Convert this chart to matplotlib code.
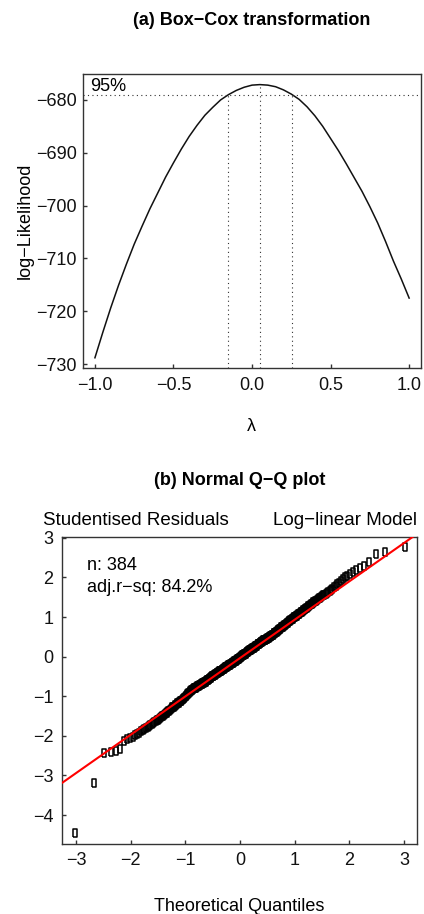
import numpy as np
import matplotlib
matplotlib.use("Agg")
import matplotlib.pyplot as plt
from statistics import NormalDist

plt.rcParams['font.family'] = ['Liberation Sans', 'DejaVu Sans']
plt.rcParams['font.size'] = 13

# (a) Box-Cox profile log-likelihood
lam = [-1.0, -0.95, -0.9, -0.85, -0.8, -0.75, -0.7, -0.65, -0.6, -0.55,
       -0.5, -0.45, -0.4, -0.35, -0.3, -0.25, -0.2, -0.15, -0.1, -0.05,
       0.0, 0.05, 0.1, 0.15, 0.2, 0.25, 0.3, 0.35, 0.4, 0.45,
       0.5, 0.55, 0.6, 0.65, 0.7, 0.75, 0.8, 0.85, 0.9, 0.95, 1.0]
loglik = [-728.8, -724.0, -719.4, -715.1, -711.1, -707.3, -703.9, -700.6,
          -697.6, -694.6, -691.9, -689.3, -686.9, -684.8, -682.9, -681.4,
          -680.0, -679.0, -678.2, -677.6, -677.2, -677.1, -677.2, -677.5,
          -678.1, -678.9, -679.9, -681.3, -683.0, -685.0, -687.3, -689.6,
          -692.1, -694.7, -697.3, -700.2, -703.3, -706.8, -710.5, -713.9,
          -717.5]
lam_best = 0.053
loglik_max = -677.09
lim95 = -679.0
ci = [-0.153, 0.255]

# (b) sorted studentised residuals, n = 384
resid = [
    -4.44, -3.19, -2.42, -2.41, -2.39, -2.34, -2.13, -2.08, -2.06, -2.03,
    -1.99, -1.95, -1.92, -1.88, -1.86, -1.83, -1.80, -1.77, -1.74, -1.72,
    -1.70, -1.68, -1.65, -1.63, -1.61, -1.59, -1.57, -1.55, -1.53, -1.51,
    -1.49, -1.47, -1.45, -1.43, -1.41, -1.40, -1.38, -1.36, -1.34, -1.32,
    -1.30, -1.28, -1.27, -1.26, -1.24, -1.23, -1.21, -1.20, -1.18, -1.17,
    -1.16, -1.15, -1.13, -1.12, -1.11, -1.10, -1.07, -1.06, -1.05, -1.04,
    -1.01, -1.00, -0.99, -0.98, -0.94, -0.93, -0.92, -0.91, -0.88, -0.87,
    -0.86, -0.85, -0.84, -0.83, -0.82, -0.81, -0.80, -0.79, -0.79, -0.78,
    -0.78, -0.77, -0.76, -0.75, -0.74, -0.74, -0.73, -0.72,
    -0.72, -0.71, -0.70, -0.69, -0.69, -0.68, -0.67, -0.66,
    -0.66, -0.66, -0.65, -0.64, -0.63, -0.63, -0.62, -0.61,
    -0.60, -0.59, -0.59, -0.58, -0.57, -0.56, -0.56, -0.55,
    -0.53, -0.53, -0.52, -0.51, -0.50, -0.50, -0.49, -0.48,
    -0.48, -0.47, -0.46, -0.45, -0.45, -0.44, -0.43, -0.43,
    -0.42, -0.41, -0.41, -0.40, -0.39, -0.38, -0.38, -0.37,
    -0.37, -0.37, -0.36, -0.35, -0.35, -0.34, -0.33, -0.33,
    -0.32, -0.31, -0.31, -0.30, -0.29, -0.29, -0.28, -0.27,
    -0.27, -0.26, -0.25, -0.25, -0.24, -0.24, -0.23, -0.22,
    -0.22, -0.22, -0.21, -0.21, -0.20, -0.19, -0.19, -0.18,
    -0.17, -0.17, -0.16, -0.16, -0.15, -0.14, -0.14, -0.13,
    -0.12, -0.12, -0.11, -0.10, -0.10, -0.09, -0.09, -0.08,
    -0.07, -0.07, -0.06, -0.05, -0.05, -0.04, -0.03, -0.03,
    -0.01, -0.01, 0.00, 0.01, 0.01, 0.02, 0.03, 0.03,
    0.04, 0.04, 0.05, 0.06, 0.06, 0.07, 0.08, 0.08,
    0.10, 0.10, 0.11, 0.12, 0.12, 0.13, 0.14, 0.14,
    0.15, 0.16, 0.16, 0.17, 0.18, 0.18, 0.19, 0.20,
    0.20, 0.20, 0.21, 0.21, 0.22, 0.22, 0.23, 0.24,
    0.24, 0.25, 0.26, 0.26, 0.27, 0.28, 0.28, 0.29,
    0.31, 0.31, 0.32, 0.33, 0.33, 0.34, 0.35, 0.35,
    0.36, 0.37, 0.37, 0.38, 0.39, 0.40, 0.40, 0.41,
    0.41, 0.41, 0.42, 0.43, 0.43, 0.44, 0.45, 0.45,
    0.45, 0.46, 0.47, 0.47, 0.48, 0.49, 0.50, 0.50,
    0.51, 0.52, 0.52, 0.53, 0.54, 0.55, 0.55, 0.56,
    0.58, 0.59, 0.59, 0.60, 0.61, 0.62, 0.63, 0.63,
    0.65, 0.66, 0.67, 0.68, 0.68, 0.69, 0.70, 0.71,
    0.73, 0.74, 0.75, 0.75, 0.76, 0.77, 0.78, 0.79,
    0.81, 0.81, 0.82, 0.83, 0.84, 0.85, 0.86, 0.87,
    0.89, 0.90, 0.91, 0.92, 0.93, 0.94, 0.95, 0.96,
    0.98, 0.99, 1.00, 1.01, 1.02, 1.03, 1.04, 1.05,
    1.07, 1.08, 1.09, 1.11, 1.12, 1.13, 1.14, 1.15,
    1.18, 1.19, 1.20, 1.21, 1.23, 1.24, 1.25, 1.27,
    1.29, 1.31, 1.32, 1.33, 1.35, 1.37, 1.38, 1.40,
    1.41, 1.43, 1.45, 1.47, 1.49, 1.51, 1.53, 1.55,
    1.57, 1.59, 1.62, 1.64, 1.67, 1.69, 1.72, 1.75,
    1.79, 1.83, 1.86, 1.90,
    1.96, 2.00, 2.04, 2.10, 2.14, 2.20, 2.25, 2.30, 2.38, 2.59, 2.65, 2.77,
]
assert len(resid) == 384
qq_slope = 0.969
qq_intercept = -0.035


def style_axes(ax):
    for s in ax.spines.values():
        s.set_linewidth(1.0)
        s.set_color('#333333')
    ax.tick_params(direction='in', length=3.2, width=1.0, color='#333333',
                   labelsize=13, labelcolor='#111111')


fig = plt.figure(figsize=(4.24, 9.14), dpi=100)

# ---- (a) Box-Cox ----
ax1 = fig.add_axes([0.195, 0.597, 0.797, 0.322])
style_axes(ax1)
ax1.plot(lam, loglik, color='#111111', lw=1.1)
ax1.set_xlim(-1.078, 1.073)
ax1.set_ylim(-730.8, -675.1)
y0 = ax1.get_ylim()[0]
dots = dict(color='#333333', lw=0.8, linestyle=(0, (1, 3)))
ax1.axhline(lim95, **dots)
ax1.vlines(ci, y0, lim95, **dots)
ax1.vlines(lam_best, y0, loglik_max, **dots)
ax1.text(-1.032, -678.23, '95%', ha='left', va='baseline', fontsize=13)
ax1.set_xticks([-1.0, -0.5, 0.0, 0.5, 1.0])
ax1.set_yticks([-730, -720, -710, -700, -690, -680])
ax1.tick_params(axis='x', pad=6)
ax1.tick_params(axis='y', pad=4)
fig.text(0.594, 0.978, '(a) Box\u2212Cox transformation', ha='center',
         va='center', fontweight='bold', fontsize=13)
fig.text(0.059, 0.758, 'log\u2212Likelihood', rotation=90, ha='center',
         va='center', fontsize=13)
fig.text(0.594, 0.533, '\u03bb', ha='center', va='center', fontsize=13)

# ---- (b) Normal Q-Q ----
ax2 = fig.add_axes([0.146, 0.0766, 0.838, 0.3362])
style_axes(ax2)
n = len(resid)
theo = [NormalDist().inv_cdf((i - 0.5) / n) for i in range(1, n + 1)]
box = [(-0.25, -0.5), (0.25, -0.5), (0.25, 0.5), (-0.25, 0.5), (-0.25, -0.5)]
ax2.plot(theo, np.sort(resid), linestyle='none', marker=box, markersize=6.4,
         markerfacecolor='none', markeredgecolor='black', markeredgewidth=1.1)
ax2.axline((0, qq_intercept), slope=qq_slope, color='#ff0000', lw=1.5, zorder=3)
ax2.set_xlim(-3.256, 3.24)
ax2.set_ylim(-4.73, 3.03)
ax2.set_xticks(range(-3, 4))
ax2.set_yticks(range(-4, 4))
ax2.tick_params(axis='x', pad=6)
ax2.tick_params(axis='y', pad=6)
ax2.text(-2.804, 2.20, 'n: 384', ha='left', va='baseline', fontsize=13)
ax2.text(-2.804, 1.636, 'adj.r\u2212sq: 84.2%', ha='left', va='baseline',
         fontsize=13)
fig.text(0.565, 0.4748, '(b) Normal Q\u2212Q plot', ha='center', va='center',
         fontweight='bold', fontsize=13)
fig.text(0.1014, 0.43, 'Studentised Residuals', ha='left', va='center',
         fontsize=13.5)
fig.text(0.983, 0.43, 'Log\u2212linear Model', ha='right', va='center',
         fontsize=13.5)
fig.text(0.565, 0.008, 'Theoretical Quantiles', ha='center', va='center',
         fontsize=13)

fig.savefig('out.png', dpi=100)
